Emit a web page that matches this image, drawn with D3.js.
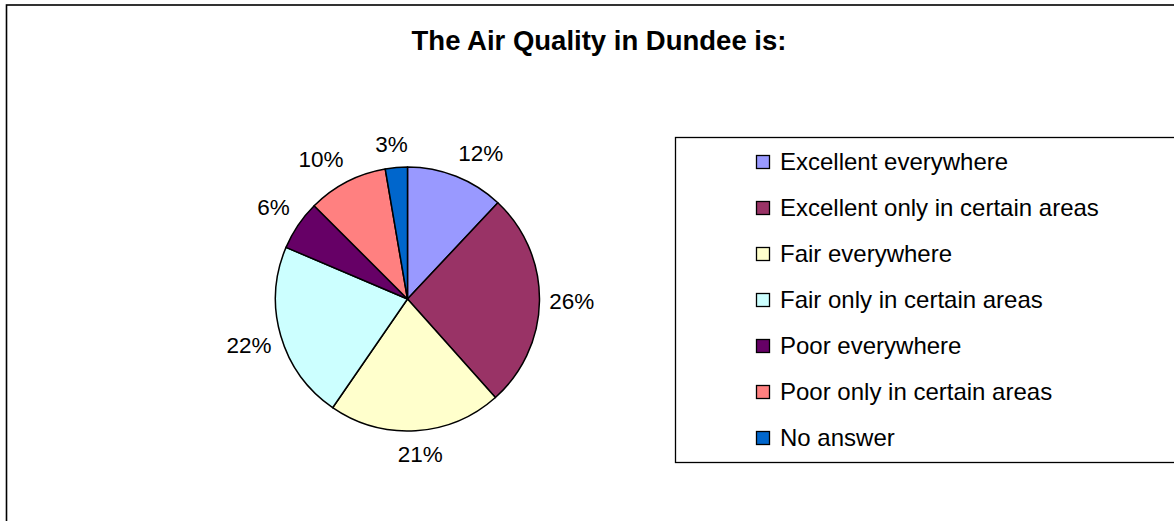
<!DOCTYPE html>
<html>
<head>
<meta charset="utf-8">
<script src="https://cdn.jsdelivr.net/npm/d3@7"></script>
<style>
  body { margin: 0; background: #fff; }
  svg { display: block; font-family: "Liberation Sans", Arial, sans-serif; }
</style>
</head>
<body>
<div id="chart"></div>
<script>
// data
const categories = [
    "Excellent everywhere",
    "Excellent only in certain areas",
    "Fair everywhere",
    "Fair only in certain areas",
    "Poor everywhere",
    "Poor only in certain areas",
    "No answer"
];
const values = [12, 26.4, 21.2, 21.8, 6.1, 9.8, 2.7];
const colors = ["#9999FF", "#993366", "#FFFFCC", "#CCFFFF", "#660066", "#FF8080", "#0066CC"];
const title = "The Air Quality in Dundee is:";

const width = 1174, height = 521;
const cx = 407.5, cy = 299, radius = 132;

const svg = d3.select("#chart")
    .append("svg")
    .attr("width", width)
    .attr("height", height);

svg.append("rect")
    .attr("width", width).attr("height", height)
    .attr("fill", "#fff");

// chart area border (runs off the right and bottom)
svg.append("rect")
    .attr("x", 6.5).attr("y", 5)
    .attr("width", 1200).attr("height", 560)
    .attr("fill", "none")
    .attr("stroke", "#000")
    .attr("stroke-width", 1.6);

svg.append("text")
    .attr("x", 599)
    .attr("y", 50)
    .attr("text-anchor", "middle")
    .style("font-size", "27.5px")
    .style("font-weight", "bold")
    .text(title);

const data = categories.map((c, i) => ({name: c, value: values[i], color: colors[i]}));
const total = d3.sum(values);
const fmt = d3.format(".0%");

const pie = d3.pie().sort(null).value(d => d.value);
const arc = d3.arc().innerRadius(0).outerRadius(radius);
const arcs = pie(data);

const g = svg.append("g").attr("transform", `translate(${cx},${cy})`);

g.selectAll("path")
    .data(arcs)
    .enter()
    .append("path")
    .attr("d", arc)
    .attr("fill", d => d.data.color)
    .attr("stroke", "#000")
    .attr("stroke-width", 1.5)
    .attr("stroke-linejoin", "round");

// labels outside the pie, nudged away like excel does
const labelR = radius + 12;
const labels = g.selectAll("text.lbl")
    .data(arcs)
    .enter()
    .append("text")
    .attr("class", "lbl")
    .attr("text-anchor", "middle")
    .attr("dominant-baseline", "central")
    .style("font-size", "22.5px")
    .text(d => fmt(d.data.value / total));

labels.each(function(d) {
    const a = (d.startAngle + d.endAngle) / 2;
    const w = this.getComputedTextLength();
    const h = 24;
    const s = Math.sin(a), c = -Math.cos(a);
    const kx = Math.max(-1, Math.min(1, 3 * s)) * 0.9;
    const ky = Math.max(-1, Math.min(1, 2 * c)) * 0.95;
    const x = labelR * s + kx * w / 2;
    const y = labelR * c + ky * h / 2;
    d3.select(this).attr("x", x).attr("y", y);
});

// legend
const legend = svg.append("g");
legend.append("rect")
    .attr("x", 675.5).attr("y", 137.5)
    .attr("width", 560).attr("height", 325)
    .attr("fill", "#fff")
    .attr("stroke", "#000")
    .attr("stroke-width", 1.3);

const rowY = d3.scalePoint().domain(categories).range([162, 438]);

const rows = legend.selectAll("g.row")
    .data(data)
    .enter()
    .append("g")
    .attr("class", "row")
    .attr("transform", d => `translate(756,${rowY(d.name)})`);

rows.append("rect")
    .attr("x", 0.5).attr("y", -6.5)
    .attr("width", 13).attr("height", 13)
    .attr("fill", d => d.color)
    .attr("stroke", "#000")
    .attr("stroke-width", 1.3);

rows.append("text")
    .attr("x", 24)
    .attr("y", 8)
    .style("font-size", "24px")
    .text(d => d.name);
</script>
</body>
</html>
